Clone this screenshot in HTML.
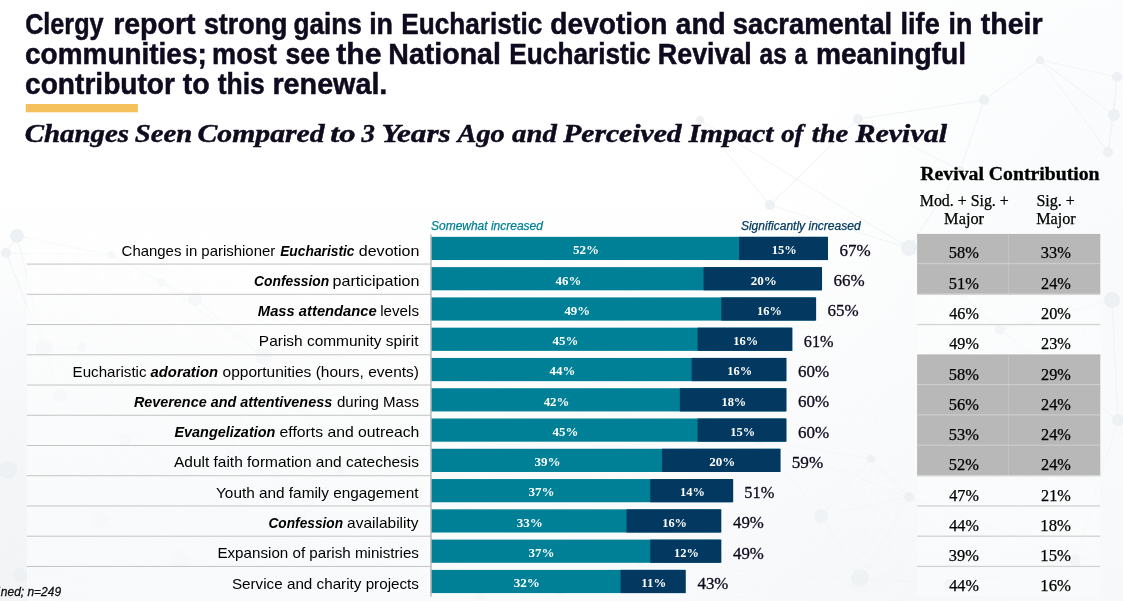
<!DOCTYPE html>
<html><head><meta charset="utf-8"><title>Clergy report</title>
<style>
html,body{margin:0;padding:0;background:#fff;}
body{width:1123px;height:601px;overflow:hidden;font-family:"Liberation Sans",sans-serif;}
svg{display:block;position:absolute;left:0;top:0;will-change:transform;}
text{white-space:pre;}
.t{font-family:"Liberation Sans",sans-serif;font-weight:bold;font-size:29.4px;fill:#0f0a1e;stroke:#0f0a1e;stroke-width:0.5px;}
.st{font-family:"Liberation Serif",serif;font-weight:bold;font-style:italic;font-size:24.8px;fill:#0f0a1e;stroke:#0f0a1e;stroke-width:0.45px;}
.lb{font-family:"Liberation Sans",sans-serif;font-size:14.5px;fill:#000;}
.lbb{font-family:"Liberation Sans",sans-serif;font-size:14.5px;fill:#000;font-weight:bold;font-style:italic;}
.lg{font-family:"Liberation Sans",sans-serif;font-style:italic;font-size:12px;stroke-width:0.25px;}
.v{font-family:"Liberation Serif",serif;font-weight:bold;font-size:12.3px;fill:#fff;}
.tt{font-family:"Liberation Serif",serif;font-size:17px;fill:#0f0a1e;stroke:#0f0a1e;stroke-width:0.3px;}
.th{font-family:"Liberation Serif",serif;font-weight:bold;font-size:18px;fill:#000;stroke:#000;stroke-width:0.3px;}
.ch{font-family:"Liberation Serif",serif;font-size:15.8px;fill:#000;stroke:#000;stroke-width:0.25px;}
.c{font-family:"Liberation Serif",serif;font-size:16px;fill:#000;stroke:#000;stroke-width:0.25px;}
.ft{font-family:"Liberation Sans",sans-serif;font-style:italic;font-size:12.2px;fill:#111;stroke:#111;stroke-width:0.3px;}
</style></head><body>
<svg width="1123" height="601" viewBox="0 0 1123 601">

<defs><radialGradient id="g1" cx="0" cy="1" r="1"><stop offset="0" stop-color="#f2f4f6"/><stop offset="1" stop-color="#f2f4f6" stop-opacity="0"/></radialGradient><radialGradient id="g2" cx="1" cy="0.5" r="1"><stop offset="0" stop-color="#f8fafb"/><stop offset="1" stop-color="#f8fafb" stop-opacity="0"/></radialGradient><linearGradient id="veil" x1="0" y1="0" x2="1" y2="0"><stop offset="0" stop-color="#fff" stop-opacity="0.5"/><stop offset="0.7" stop-color="#fff" stop-opacity="0.45"/><stop offset="1" stop-color="#fff" stop-opacity="0"/></linearGradient><linearGradient id="g3" x1="0" y1="0" x2="0" y2="1"><stop offset="0" stop-color="#f4f6f8" stop-opacity="0"/><stop offset="1" stop-color="#f4f6f8" stop-opacity="1"/></linearGradient></defs><rect x="0" y="180" width="1123" height="421" fill="url(#g3)"/><rect x="0" y="230" width="520" height="371" fill="url(#g1)"/><rect x="780" y="0" width="343" height="601" fill="url(#g2)"/><g stroke="#f3f5f7" stroke-width="1.1" fill="none"><line x1="17" y1="236" x2="6" y2="253"/><line x1="17" y1="236" x2="111" y2="255"/><line x1="17" y1="236" x2="44" y2="348"/><line x1="6" y1="253" x2="44" y2="348"/><line x1="6" y1="253" x2="111" y2="255"/><line x1="111" y1="255" x2="161" y2="282"/><line x1="111" y1="255" x2="195" y2="299"/><line x1="111" y1="255" x2="17" y2="236"/><line x1="195" y1="299" x2="161" y2="282"/><line x1="195" y1="299" x2="264" y2="357"/><line x1="44" y1="348" x2="82" y2="347"/><line x1="44" y1="348" x2="60" y2="395"/><line x1="44" y1="348" x2="6" y2="253"/><line x1="82" y1="347" x2="60" y2="395"/><line x1="264" y1="357" x2="195" y2="299"/><line x1="264" y1="357" x2="230" y2="455"/><line x1="264" y1="357" x2="161" y2="282"/><line x1="161" y1="282" x2="111" y2="255"/><line x1="984" y1="100" x2="1040" y2="60"/><line x1="984" y1="100" x2="960" y2="170"/><line x1="984" y1="100" x2="858" y2="119"/><line x1="858" y1="119" x2="960" y2="170"/><line x1="858" y1="119" x2="770" y2="205"/><line x1="858" y1="119" x2="984" y2="100"/><line x1="1114" y1="115" x2="1108" y2="152"/><line x1="1114" y1="115" x2="1117" y2="77"/><line x1="1114" y1="115" x2="1040" y2="60"/><line x1="1117" y1="77" x2="1114" y2="115"/><line x1="1117" y1="77" x2="1108" y2="152"/><line x1="1117" y1="77" x2="1040" y2="60"/><line x1="909" y1="248" x2="960" y2="170"/><line x1="909" y1="248" x2="1000" y2="330"/><line x1="1108" y1="152" x2="1117" y2="77"/><line x1="1108" y1="152" x2="1040" y2="60"/><line x1="821" y1="516" x2="860" y2="578"/><line x1="821" y1="516" x2="871" y2="459"/><line x1="821" y1="516" x2="909" y2="497"/><line x1="860" y1="578" x2="821" y2="516"/><line x1="860" y1="578" x2="950" y2="585"/><line x1="860" y1="578" x2="909" y2="497"/><line x1="909" y1="497" x2="871" y2="459"/><line x1="871" y1="459" x2="760" y2="440"/><line x1="1112" y1="300" x2="1000" y2="330"/><line x1="1112" y1="300" x2="1118" y2="420"/><line x1="1118" y1="420" x2="1112" y2="300"/><line x1="1118" y1="420" x2="1075" y2="560"/><line x1="1118" y1="420" x2="1000" y2="330"/><line x1="1075" y1="560" x2="950" y2="585"/><line x1="1075" y1="560" x2="909" y2="497"/><line x1="60" y1="395" x2="44" y2="348"/><line x1="60" y1="395" x2="82" y2="347"/><line x1="60" y1="395" x2="125" y2="440"/><line x1="125" y1="440" x2="100" y2="520"/><line x1="8" y1="470" x2="60" y2="395"/><line x1="8" y1="470" x2="100" y2="520"/><line x1="8" y1="470" x2="20" y2="575"/><line x1="100" y1="520" x2="180" y2="560"/><line x1="100" y1="520" x2="20" y2="575"/><line x1="180" y1="560" x2="230" y2="455"/><line x1="180" y1="560" x2="300" y2="520"/><line x1="300" y1="520" x2="340" y2="470"/><line x1="300" y1="520" x2="230" y2="455"/><line x1="340" y1="470" x2="230" y2="455"/><line x1="340" y1="470" x2="264" y2="357"/><line x1="230" y1="455" x2="300" y2="520"/><line x1="230" y1="455" x2="264" y2="357"/><line x1="700" y1="120" x2="770" y2="205"/><line x1="700" y1="120" x2="909" y2="248"/><line x1="770" y1="205" x2="909" y2="248"/><line x1="960" y1="170" x2="909" y2="248"/><line x1="1000" y1="330" x2="1112" y2="300"/><line x1="760" y1="440" x2="821" y2="516"/><line x1="760" y1="440" x2="909" y2="497"/><line x1="640" y1="560" x2="560" y2="590"/><line x1="640" y1="560" x2="480" y2="598"/><line x1="560" y1="590" x2="480" y2="598"/></g><g fill="#edf1f3"><circle cx="17" cy="236" r="7"/><circle cx="6" cy="253" r="5"/><circle cx="111" cy="255" r="4"/><circle cx="195" cy="299" r="7"/><circle cx="44" cy="348" r="8"/><circle cx="82" cy="347" r="5"/><circle cx="264" cy="357" r="8"/><circle cx="161" cy="282" r="4"/><circle cx="984" cy="100" r="5"/><circle cx="858" cy="119" r="5"/><circle cx="1114" cy="115" r="6"/><circle cx="1117" cy="77" r="5"/><circle cx="909" cy="248" r="8"/><circle cx="1108" cy="152" r="5"/><circle cx="821" cy="516" r="7"/><circle cx="860" cy="578" r="9"/><circle cx="909" cy="497" r="5"/><circle cx="871" cy="459" r="4"/><circle cx="1112" cy="300" r="8"/><circle cx="1118" cy="420" r="6"/><circle cx="1075" cy="560" r="6"/><circle cx="60" cy="395" r="7"/><circle cx="125" cy="440" r="6"/><circle cx="8" cy="470" r="9"/><circle cx="100" cy="520" r="8"/><circle cx="180" cy="560" r="9"/><circle cx="300" cy="520" r="6"/><circle cx="340" cy="470" r="5"/><circle cx="230" cy="455" r="5"/><circle cx="20" cy="575" r="7"/><circle cx="700" cy="120" r="4"/><circle cx="770" cy="205" r="5"/><circle cx="1040" cy="60" r="4"/><circle cx="960" cy="170" r="4"/><circle cx="1000" cy="330" r="5"/><circle cx="760" cy="440" r="5"/><circle cx="950" cy="585" r="6"/><circle cx="640" cy="560" r="5"/><circle cx="560" cy="590" r="6"/><circle cx="480" cy="598" r="5"/></g>
<rect x="27" y="232" width="900" height="369" fill="url(#veil)"/>
<rect x="917.1" y="233.9" width="183.2" height="362.8" fill="#fff" fill-opacity="0.35"/>
<text class="t" x="25.16" y="34.00" textLength="78.43" lengthAdjust="spacingAndGlyphs">Clergy</text>
<text class="t" x="113.17" y="34.00" textLength="82.42" lengthAdjust="spacingAndGlyphs">report</text>
<text class="t" x="203.91" y="34.00" textLength="83.56" lengthAdjust="spacingAndGlyphs">strong</text>
<text class="t" x="293.43" y="34.00" textLength="68.48" lengthAdjust="spacingAndGlyphs">gains</text>
<text class="t" x="369.17" y="34.00" textLength="23.88" lengthAdjust="spacingAndGlyphs">in</text>
<text class="t" x="401.31" y="34.00" textLength="141.09" lengthAdjust="spacingAndGlyphs">Eucharistic</text>
<text class="t" x="550.37" y="34.00" textLength="117.14" lengthAdjust="spacingAndGlyphs">devotion</text>
<text class="t" x="675.81" y="34.00" textLength="49.83" lengthAdjust="spacingAndGlyphs">and</text>
<text class="t" x="732.80" y="34.00" textLength="159.37" lengthAdjust="spacingAndGlyphs">sacramental</text>
<text class="t" x="900.56" y="34.00" textLength="39.17" lengthAdjust="spacingAndGlyphs">life</text>
<text class="t" x="948.48" y="34.00" textLength="23.76" lengthAdjust="spacingAndGlyphs">in</text>
<text class="t" x="980.75" y="34.00" textLength="61.90" lengthAdjust="spacingAndGlyphs">their</text>
<text class="t" x="25.08" y="64.10" textLength="181.69" lengthAdjust="spacingAndGlyphs">communities;</text>
<text class="t" x="212.06" y="64.10" textLength="64.73" lengthAdjust="spacingAndGlyphs">most</text>
<text class="t" x="285.52" y="64.10" textLength="44.50" lengthAdjust="spacingAndGlyphs">see</text>
<text class="t" x="336.25" y="64.10" textLength="45.25" lengthAdjust="spacingAndGlyphs">the</text>
<text class="t" x="388.37" y="64.10" textLength="112.57" lengthAdjust="spacingAndGlyphs">National</text>
<text class="t" x="509.31" y="64.10" textLength="141.39" lengthAdjust="spacingAndGlyphs">Eucharistic</text>
<text class="t" x="657.87" y="64.10" textLength="93.96" lengthAdjust="spacingAndGlyphs">Revival</text>
<text class="t" x="759.57" y="64.10" textLength="27.28" lengthAdjust="spacingAndGlyphs">as</text>
<text class="t" x="794.50" y="64.10" textLength="12.51" lengthAdjust="spacingAndGlyphs">a</text>
<text class="t" x="815.89" y="64.10" textLength="150.12" lengthAdjust="spacingAndGlyphs">meaningful</text>
<text class="t" x="25.07" y="94.20" textLength="149.88" lengthAdjust="spacingAndGlyphs">contributor</text>
<text class="t" x="182.85" y="94.20" textLength="26.93" lengthAdjust="spacingAndGlyphs">to</text>
<text class="t" x="217.65" y="94.20" textLength="47.18" lengthAdjust="spacingAndGlyphs">this</text>
<text class="t" x="272.46" y="94.20" textLength="114.89" lengthAdjust="spacingAndGlyphs">renewal.</text>
<rect x="25.7" y="104" width="112.2" height="8.3" fill="#f5c15c"/>
<text class="st" x="24.70" y="142.00" textLength="104.36" lengthAdjust="spacingAndGlyphs">Changes</text>
<text class="st" x="134.75" y="142.00" textLength="57.41" lengthAdjust="spacingAndGlyphs">Seen</text>
<text class="st" x="197.57" y="142.00" textLength="127.06" lengthAdjust="spacingAndGlyphs">Compared</text>
<text class="st" x="330.29" y="142.00" textLength="25.33" lengthAdjust="spacingAndGlyphs">to</text>
<text class="st" x="361.52" y="142.00" textLength="13.40" lengthAdjust="spacingAndGlyphs">3</text>
<text class="st" x="381.54" y="142.00" textLength="69.08" lengthAdjust="spacingAndGlyphs">Years</text>
<text class="st" x="457.57" y="142.00" textLength="47.21" lengthAdjust="spacingAndGlyphs">Ago</text>
<text class="st" x="512.10" y="142.00" textLength="44.75" lengthAdjust="spacingAndGlyphs">and</text>
<text class="st" x="563.16" y="142.00" textLength="118.47" lengthAdjust="spacingAndGlyphs">Perceived</text>
<text class="st" x="688.66" y="142.00" textLength="84.82" lengthAdjust="spacingAndGlyphs">Impact</text>
<text class="st" x="781.18" y="142.00" textLength="22.24" lengthAdjust="spacingAndGlyphs">of</text>
<text class="st" x="811.76" y="142.00" textLength="36.37" lengthAdjust="spacingAndGlyphs">the</text>
<text class="st" x="855.47" y="142.00" textLength="91.63" lengthAdjust="spacingAndGlyphs">Revival</text>
<text class="lg" x="431.00" y="230.00" textLength="111.87" lengthAdjust="spacingAndGlyphs" fill="#008097" stroke="#008097">Somewhat increased</text>
<text class="lg" x="740.90" y="230.00" textLength="119.77" lengthAdjust="spacingAndGlyphs" fill="#033960" stroke="#033960">Significantly increased</text>
<text class="th" x="920.39" y="180.00" textLength="179.19" lengthAdjust="spacingAndGlyphs">Revival Contribution</text>
<text class="ch" x="919.75" y="206.00" textLength="89.02" lengthAdjust="spacingAndGlyphs">Mod. + Sig. +</text>
<text class="ch" x="944.14" y="224.00" textLength="39.94" lengthAdjust="spacingAndGlyphs">Major</text>
<text class="ch" x="1036.40" y="206.00" textLength="38.37" lengthAdjust="spacingAndGlyphs">Sig. +</text>
<text class="ch" x="1036.15" y="224.00" textLength="39.53" lengthAdjust="spacingAndGlyphs">Major</text>
<rect x="431.0" y="236.84" width="395.97" height="23.2" fill="#008097"/>
<rect x="739.10" y="236.84" width="88.88" height="23.2" fill="#033960"/>
<text class="lb" x="121.60" y="255.54" textLength="153.67" lengthAdjust="spacingAndGlyphs">Changes in parishioner</text>
<text class="lbb" x="280.18" y="255.54" textLength="74.34" lengthAdjust="spacingAndGlyphs">Eucharistic</text>
<text class="lb" x="358.80" y="255.54" textLength="60.60" lengthAdjust="spacingAndGlyphs">devotion</text>
<text class="v" x="572.97" y="254.24" textLength="26.10" lengthAdjust="spacingAndGlyphs">52%</text>
<text class="v" x="771.77" y="254.24" textLength="24.93" lengthAdjust="spacingAndGlyphs">15%</text>
<text class="tt" x="839.39" y="255.94" textLength="31.18" lengthAdjust="spacingAndGlyphs">67%</text>
<rect x="917.1" y="233.90" width="183.2" height="30.23" fill="#b8b8b8"/>
<rect x="1008.0" y="233.90" width="1" height="30.23" fill="#c3c3c3"/>
<rect x="917.1" y="263.33" width="183.2" height="1.5" fill="#d6d6d6"/>
<text class="c" x="948.75" y="258.44" textLength="30.07" lengthAdjust="spacingAndGlyphs">58%</text>
<text class="c" x="1040.85" y="258.44" textLength="30.07" lengthAdjust="spacingAndGlyphs">33%</text>
<rect x="27" y="263.58" width="403.5" height="1" fill="#c4c4c4"/>
<rect x="431.0" y="267.12" width="390.05" height="23.2" fill="#008097"/>
<rect x="703.55" y="267.12" width="118.50" height="23.2" fill="#033960"/>
<text class="lbb" x="254.05" y="285.82" textLength="75.20" lengthAdjust="spacingAndGlyphs">Confession</text>
<text class="lb" x="332.59" y="285.82" textLength="86.81" lengthAdjust="spacingAndGlyphs">participation</text>
<text class="v" x="555.52" y="284.52" textLength="25.76" lengthAdjust="spacingAndGlyphs">46%</text>
<text class="v" x="750.67" y="284.52" textLength="26.15" lengthAdjust="spacingAndGlyphs">20%</text>
<text class="tt" x="833.47" y="286.22" textLength="31.18" lengthAdjust="spacingAndGlyphs">66%</text>
<rect x="917.1" y="264.13" width="183.2" height="30.23" fill="#b8b8b8"/>
<rect x="1008.0" y="264.13" width="1" height="30.23" fill="#c3c3c3"/>
<rect x="917.1" y="293.56" width="183.2" height="1.5" fill="#d6d6d6"/>
<text class="c" x="948.75" y="288.72" textLength="30.07" lengthAdjust="spacingAndGlyphs">51%</text>
<text class="c" x="1041.11" y="288.72" textLength="29.80" lengthAdjust="spacingAndGlyphs">24%</text>
<rect x="27" y="293.81" width="403.5" height="1" fill="#c4c4c4"/>
<rect x="431.0" y="297.39" width="384.12" height="23.2" fill="#008097"/>
<rect x="721.33" y="297.39" width="94.80" height="23.2" fill="#033960"/>
<text class="lbb" x="257.87" y="316.09" textLength="118.90" lengthAdjust="spacingAndGlyphs">Mass attendance</text>
<text class="lb" x="380.25" y="316.09" textLength="38.72" lengthAdjust="spacingAndGlyphs">levels</text>
<text class="v" x="564.41" y="314.79" textLength="25.76" lengthAdjust="spacingAndGlyphs">49%</text>
<text class="v" x="756.96" y="314.79" textLength="24.93" lengthAdjust="spacingAndGlyphs">16%</text>
<text class="tt" x="827.54" y="316.49" textLength="31.18" lengthAdjust="spacingAndGlyphs">65%</text>
<rect x="917.1" y="323.90" width="183.2" height="1.3" fill="#d2d2d2"/>
<text class="c" x="949.27" y="318.99" textLength="29.54" lengthAdjust="spacingAndGlyphs">46%</text>
<text class="c" x="1041.11" y="318.99" textLength="29.80" lengthAdjust="spacingAndGlyphs">20%</text>
<rect x="27" y="324.05" width="403.5" height="1" fill="#c4c4c4"/>
<rect x="431.0" y="327.67" width="360.42" height="23.2" fill="#008097"/>
<rect x="697.62" y="327.67" width="94.80" height="23.2" fill="#033960"/>
<text class="lb" x="258.89" y="346.37" textLength="159.55" lengthAdjust="spacingAndGlyphs">Parish community spirit</text>
<text class="v" x="552.56" y="345.07" textLength="25.76" lengthAdjust="spacingAndGlyphs">45%</text>
<text class="v" x="733.26" y="345.07" textLength="24.93" lengthAdjust="spacingAndGlyphs">16%</text>
<text class="tt" x="803.87" y="346.77" textLength="29.74" lengthAdjust="spacingAndGlyphs">61%</text>
<rect x="917.1" y="354.13" width="183.2" height="1.3" fill="#d2d2d2"/>
<text class="c" x="949.27" y="349.27" textLength="29.54" lengthAdjust="spacingAndGlyphs">49%</text>
<text class="c" x="1041.11" y="349.27" textLength="29.80" lengthAdjust="spacingAndGlyphs">23%</text>
<rect x="27" y="354.28" width="403.5" height="1" fill="#c4c4c4"/>
<rect x="431.0" y="357.94" width="354.50" height="23.2" fill="#008097"/>
<rect x="691.70" y="357.94" width="94.80" height="23.2" fill="#033960"/>
<text class="lb" x="72.62" y="376.64" textLength="73.92" lengthAdjust="spacingAndGlyphs">Eucharistic</text>
<text class="lbb" x="150.60" y="376.64" textLength="67.38" lengthAdjust="spacingAndGlyphs">adoration</text>
<text class="lb" x="222.62" y="376.64" textLength="196.39" lengthAdjust="spacingAndGlyphs">opportunities (hours, events)</text>
<text class="v" x="549.59" y="375.34" textLength="25.76" lengthAdjust="spacingAndGlyphs">44%</text>
<text class="v" x="727.34" y="375.34" textLength="24.93" lengthAdjust="spacingAndGlyphs">16%</text>
<text class="tt" x="797.92" y="377.04" textLength="31.18" lengthAdjust="spacingAndGlyphs">60%</text>
<rect x="917.1" y="354.84" width="183.2" height="30.23" fill="#b8b8b8"/>
<rect x="1008.0" y="354.84" width="1" height="30.23" fill="#c3c3c3"/>
<rect x="917.1" y="384.27" width="183.2" height="1.5" fill="#d6d6d6"/>
<text class="c" x="948.75" y="379.54" textLength="30.07" lengthAdjust="spacingAndGlyphs">58%</text>
<text class="c" x="1041.11" y="379.54" textLength="29.80" lengthAdjust="spacingAndGlyphs">29%</text>
<rect x="27" y="384.52" width="403.5" height="1" fill="#c4c4c4"/>
<rect x="431.0" y="388.22" width="354.50" height="23.2" fill="#008097"/>
<rect x="679.85" y="388.22" width="106.65" height="23.2" fill="#033960"/>
<text class="lbb" x="133.88" y="406.92" textLength="198.28" lengthAdjust="spacingAndGlyphs">Reverence and attentiveness</text>
<text class="lb" x="336.93" y="406.92" textLength="82.04" lengthAdjust="spacingAndGlyphs">during Mass</text>
<text class="v" x="543.67" y="405.62" textLength="25.76" lengthAdjust="spacingAndGlyphs">42%</text>
<text class="v" x="721.41" y="405.62" textLength="24.93" lengthAdjust="spacingAndGlyphs">18%</text>
<text class="tt" x="797.92" y="407.32" textLength="31.18" lengthAdjust="spacingAndGlyphs">60%</text>
<rect x="917.1" y="385.08" width="183.2" height="30.23" fill="#b8b8b8"/>
<rect x="1008.0" y="385.08" width="1" height="30.23" fill="#c3c3c3"/>
<rect x="917.1" y="414.50" width="183.2" height="1.5" fill="#d6d6d6"/>
<text class="c" x="948.75" y="409.82" textLength="30.07" lengthAdjust="spacingAndGlyphs">56%</text>
<text class="c" x="1041.11" y="409.82" textLength="29.80" lengthAdjust="spacingAndGlyphs">24%</text>
<rect x="27" y="414.75" width="403.5" height="1" fill="#c4c4c4"/>
<rect x="431.0" y="418.50" width="354.50" height="23.2" fill="#008097"/>
<rect x="697.62" y="418.50" width="88.88" height="23.2" fill="#033960"/>
<text class="lbb" x="174.48" y="437.20" textLength="100.80" lengthAdjust="spacingAndGlyphs">Evangelization</text>
<text class="lb" x="279.61" y="437.20" textLength="139.78" lengthAdjust="spacingAndGlyphs">efforts and outreach</text>
<text class="v" x="552.56" y="435.90" textLength="25.76" lengthAdjust="spacingAndGlyphs">45%</text>
<text class="v" x="730.30" y="435.90" textLength="24.93" lengthAdjust="spacingAndGlyphs">15%</text>
<text class="tt" x="797.92" y="437.60" textLength="31.18" lengthAdjust="spacingAndGlyphs">60%</text>
<rect x="917.1" y="415.31" width="183.2" height="30.23" fill="#b8b8b8"/>
<rect x="1008.0" y="415.31" width="1" height="30.23" fill="#c3c3c3"/>
<rect x="917.1" y="444.74" width="183.2" height="1.5" fill="#d6d6d6"/>
<text class="c" x="948.75" y="440.10" textLength="30.07" lengthAdjust="spacingAndGlyphs">53%</text>
<text class="c" x="1041.11" y="440.10" textLength="29.80" lengthAdjust="spacingAndGlyphs">24%</text>
<rect x="27" y="444.99" width="403.5" height="1" fill="#c4c4c4"/>
<rect x="431.0" y="448.77" width="348.58" height="23.2" fill="#008097"/>
<rect x="662.08" y="448.77" width="118.50" height="23.2" fill="#033960"/>
<text class="lb" x="174.00" y="467.47" textLength="244.98" lengthAdjust="spacingAndGlyphs">Adult faith formation and catechesis</text>
<text class="v" x="534.46" y="466.17" textLength="26.10" lengthAdjust="spacingAndGlyphs">39%</text>
<text class="v" x="709.19" y="466.17" textLength="26.15" lengthAdjust="spacingAndGlyphs">20%</text>
<text class="tt" x="791.72" y="467.87" textLength="31.46" lengthAdjust="spacingAndGlyphs">59%</text>
<rect x="917.1" y="445.54" width="183.2" height="30.23" fill="#b8b8b8"/>
<rect x="1008.0" y="445.54" width="1" height="30.23" fill="#c3c3c3"/>
<rect x="917.1" y="474.97" width="183.2" height="1.5" fill="#d6d6d6"/>
<text class="c" x="948.75" y="470.37" textLength="30.07" lengthAdjust="spacingAndGlyphs">52%</text>
<text class="c" x="1041.11" y="470.37" textLength="29.80" lengthAdjust="spacingAndGlyphs">24%</text>
<rect x="27" y="475.22" width="403.5" height="1" fill="#c4c4c4"/>
<rect x="431.0" y="479.05" width="301.17" height="23.2" fill="#008097"/>
<rect x="650.23" y="479.05" width="82.95" height="23.2" fill="#033960"/>
<text class="lb" x="216.06" y="497.75" textLength="202.39" lengthAdjust="spacingAndGlyphs">Youth and family engagement</text>
<text class="v" x="528.54" y="496.45" textLength="26.10" lengthAdjust="spacingAndGlyphs">37%</text>
<text class="v" x="679.94" y="496.45" textLength="24.93" lengthAdjust="spacingAndGlyphs">14%</text>
<text class="tt" x="744.36" y="498.15" textLength="30.00" lengthAdjust="spacingAndGlyphs">51%</text>
<rect x="917.1" y="505.31" width="183.2" height="1.3" fill="#d2d2d2"/>
<text class="c" x="949.27" y="500.65" textLength="29.54" lengthAdjust="spacingAndGlyphs">47%</text>
<text class="c" x="1041.11" y="500.65" textLength="29.80" lengthAdjust="spacingAndGlyphs">21%</text>
<rect x="27" y="505.46" width="403.5" height="1" fill="#c4c4c4"/>
<rect x="431.0" y="509.32" width="289.33" height="23.2" fill="#008097"/>
<rect x="626.52" y="509.32" width="94.80" height="23.2" fill="#033960"/>
<text class="lbb" x="268.46" y="528.02" textLength="74.59" lengthAdjust="spacingAndGlyphs">Confession</text>
<text class="lb" x="347.12" y="528.02" textLength="71.38" lengthAdjust="spacingAndGlyphs">availability</text>
<text class="v" x="516.69" y="526.72" textLength="26.10" lengthAdjust="spacingAndGlyphs">33%</text>
<text class="v" x="662.16" y="526.72" textLength="24.93" lengthAdjust="spacingAndGlyphs">16%</text>
<text class="tt" x="733.01" y="528.42" textLength="30.91" lengthAdjust="spacingAndGlyphs">49%</text>
<rect x="917.1" y="535.54" width="183.2" height="1.3" fill="#d2d2d2"/>
<text class="c" x="949.27" y="530.92" textLength="29.54" lengthAdjust="spacingAndGlyphs">44%</text>
<text class="c" x="1040.32" y="530.92" textLength="30.61" lengthAdjust="spacingAndGlyphs">18%</text>
<rect x="27" y="535.69" width="403.5" height="1" fill="#c4c4c4"/>
<rect x="431.0" y="539.60" width="289.33" height="23.2" fill="#008097"/>
<rect x="650.23" y="539.60" width="71.10" height="23.2" fill="#033960"/>
<text class="lb" x="217.41" y="558.30" textLength="201.56" lengthAdjust="spacingAndGlyphs">Expansion of parish ministries</text>
<text class="v" x="528.54" y="557.00" textLength="26.10" lengthAdjust="spacingAndGlyphs">37%</text>
<text class="v" x="674.01" y="557.00" textLength="24.93" lengthAdjust="spacingAndGlyphs">12%</text>
<text class="tt" x="733.01" y="558.70" textLength="30.91" lengthAdjust="spacingAndGlyphs">49%</text>
<rect x="917.1" y="565.78" width="183.2" height="1.3" fill="#d2d2d2"/>
<text class="c" x="948.75" y="561.20" textLength="30.07" lengthAdjust="spacingAndGlyphs">39%</text>
<text class="c" x="1040.32" y="561.20" textLength="30.61" lengthAdjust="spacingAndGlyphs">15%</text>
<rect x="27" y="565.93" width="403.5" height="1" fill="#c4c4c4"/>
<rect x="431.0" y="569.88" width="253.77" height="23.2" fill="#008097"/>
<rect x="620.60" y="569.88" width="65.17" height="23.2" fill="#033960"/>
<text class="lb" x="231.92" y="588.58" textLength="187.05" lengthAdjust="spacingAndGlyphs">Service and charity projects</text>
<text class="v" x="513.72" y="587.28" textLength="26.10" lengthAdjust="spacingAndGlyphs">32%</text>
<text class="v" x="641.39" y="587.28" textLength="24.99" lengthAdjust="spacingAndGlyphs">11%</text>
<text class="tt" x="697.46" y="588.98" textLength="30.91" lengthAdjust="spacingAndGlyphs">43%</text>
<text class="c" x="949.27" y="591.48" textLength="29.54" lengthAdjust="spacingAndGlyphs">44%</text>
<text class="c" x="1040.32" y="591.48" textLength="30.61" lengthAdjust="spacingAndGlyphs">16%</text>
<rect x="430.2" y="234.4" width="1.5" height="362.2" fill="#b9b9b9"/>
<text class="ft" x="0.80" y="595.60" textLength="60.33" lengthAdjust="spacingAndGlyphs">ned; n=249</text>
<text class="ft" x="-2.75" y="595.60" textLength="2.66" lengthAdjust="spacingAndGlyphs">i</text>
</svg>
</body></html>
